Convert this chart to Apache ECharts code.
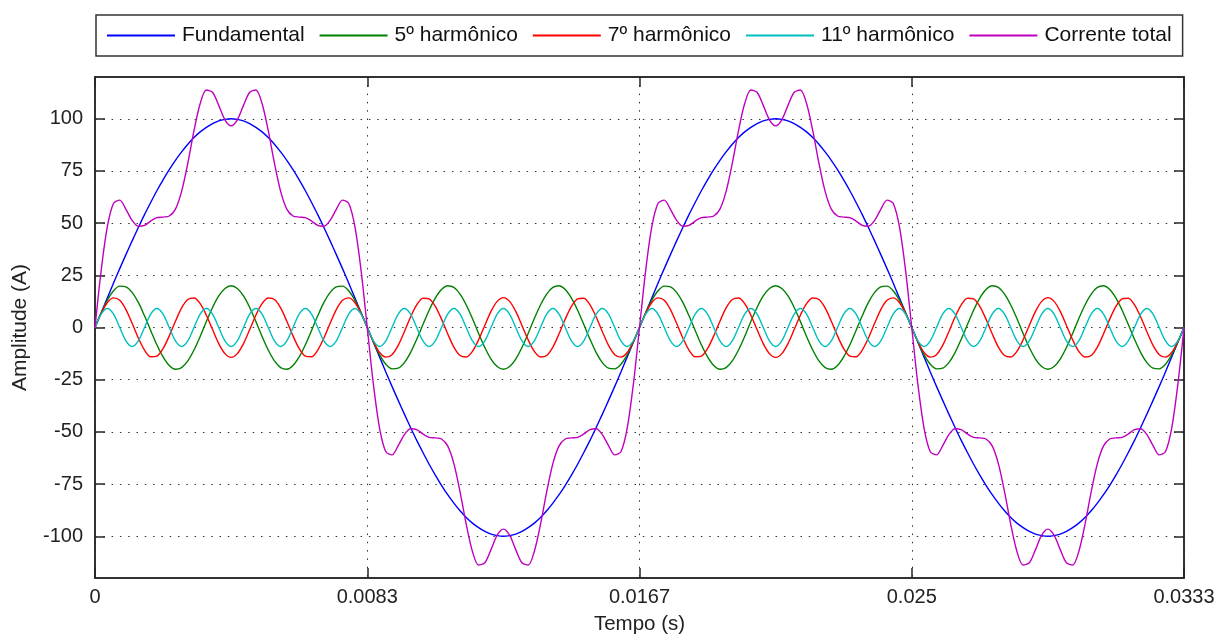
<!DOCTYPE html>
<html lang="pt" style="height: 100%;margin: 0;">
<head>
    <meta charset="UTF-8">
    <title>harmonicos</title>
</head>
<body style="height: 100%;margin: 0;background: #fff;">
<div id="chart" style="width: 1219px;height: 635px;margin: 0;"></div>
<script src="https://cdn.jsdelivr.net/npm/echarts@6/dist/echarts.min.js"></script>
<script>
    // amostras: 88 por ciclo de 60 Hz, dois ciclos (0 a 0.0333 s)
    var rotulosX = ['0', '0.0083', '0.0167', '0.025', '0.0333'];
    var ticksY = [-100, -75, -50, -25, 0, 25, 50, 75, 100];
    var legenda = ['Fundamental', '5º harmônico', '7º harmônico', '11º harmônico', 'Corrente total'];
    var cores = ['#0000ff', '#008000', '#ff0000', '#00bfbf', '#bf00bf'];

    var fundamental = [
        0, 7.1, 14.2, 21.3, 28.2, 34.9, 41.5, 47.9, 54.1, 59.9, 65.5, 70.7, 75.6, 80.1, 84.1, 87.8, 91.0, 93.7, 95.9, 97.7, 99.0, 99.7, 100,
        99.7, 99.0, 97.7, 95.9, 93.7, 91.0, 87.8, 84.1, 80.1, 75.6, 70.7, 65.5, 59.9, 54.1, 47.9, 41.5, 34.9, 28.2, 21.3, 14.2, 7.1, 0,
        -7.1, -14.2, -21.3, -28.2, -34.9, -41.5, -47.9, -54.1, -59.9, -65.5, -70.7, -75.6, -80.1, -84.1, -87.8, -91.0, -93.7, -95.9, -97.7, -99.0, -99.7, -100,
        -99.7, -99.0, -97.7, -95.9, -93.7, -91.0, -87.8, -84.1, -80.1, -75.6, -70.7, -65.5, -59.9, -54.1, -47.9, -41.5, -34.9, -28.2, -21.3, -14.2, -7.1, 0,
        7.1, 14.2, 21.3, 28.2, 34.9, 41.5, 47.9, 54.1, 59.9, 65.5, 70.7, 75.6, 80.1, 84.1, 87.8, 91.0, 93.7, 95.9, 97.7, 99.0, 99.7, 100,
        99.7, 99.0, 97.7, 95.9, 93.7, 91.0, 87.8, 84.1, 80.1, 75.6, 70.7, 65.5, 59.9, 54.1, 47.9, 41.5, 34.9, 28.2, 21.3, 14.2, 7.1, 0,
        -7.1, -14.2, -21.3, -28.2, -34.9, -41.5, -47.9, -54.1, -59.9, -65.5, -70.7, -75.6, -80.1, -84.1, -87.8, -91.0, -93.7, -95.9, -97.7, -99.0, -99.7, -100,
        -99.7, -99.0, -97.7, -95.9, -93.7, -91.0, -87.8, -84.1, -80.1, -75.6, -70.7, -65.5, -59.9, -54.1, -47.9, -41.5, -34.9, -28.2, -21.3, -14.2, -7.1, 0
    ];
    var harm5 = [
        0, 7.0, 13.1, 17.6, 19.8, 19.5, 16.8, 12.0, 5.6, -1.4, -8.3, -14.1, -18.2, -20.0, -19.2, -16.0, -10.8, -4.3, 2.9, 9.6, 15.1, 18.7, 20,
        18.7, 15.1, 9.6, 2.9, -4.3, -10.8, -16.0, -19.2, -20.0, -18.2, -14.1, -8.3, -1.4, 5.6, 12.0, 16.8, 19.5, 19.8, 17.6, 13.1, 7.0, 0,
        -7.0, -13.1, -17.6, -19.8, -19.5, -16.8, -12.0, -5.6, 1.4, 8.3, 14.1, 18.2, 20.0, 19.2, 16.0, 10.8, 4.3, -2.9, -9.6, -15.1, -18.7, -20,
        -18.7, -15.1, -9.6, -2.9, 4.3, 10.8, 16.0, 19.2, 20.0, 18.2, 14.1, 8.3, 1.4, -5.6, -12.0, -16.8, -19.5, -19.8, -17.6, -13.1, -7.0, 0,
        7.0, 13.1, 17.6, 19.8, 19.5, 16.8, 12.0, 5.6, -1.4, -8.3, -14.1, -18.2, -20.0, -19.2, -16.0, -10.8, -4.3, 2.9, 9.6, 15.1, 18.7, 20,
        18.7, 15.1, 9.6, 2.9, -4.3, -10.8, -16.0, -19.2, -20.0, -18.2, -14.1, -8.3, -1.4, 5.6, 12.0, 16.8, 19.5, 19.8, 17.6, 13.1, 7.0, 0,
        -7.0, -13.1, -17.6, -19.8, -19.5, -16.8, -12.0, -5.6, 1.4, 8.3, 14.1, 18.2, 20.0, 19.2, 16.0, 10.8, 4.3, -2.9, -9.6, -15.1, -18.7, -20,
        -18.7, -15.1, -9.6, -2.9, 4.3, 10.8, 16.0, 19.2, 20.0, 18.2, 14.1, 8.3, 1.4, -5.6, -12.0, -16.8, -19.5, -19.8, -17.6, -13.1, -7.0, 0
    ];
    var harm7 = [
        0, 6.8, 12.0, 14.2, 13.0, 8.6, 2.0, -5.0, -10.8, -14.0, -13.7, -10.1, -4.0, 3.0, 9.4, 13.4, 14.1, 11.4, 5.9, -1.0, -7.7, -12.5, -14.3,
        -12.5, -7.7, -1.0, 5.9, 11.4, 14.1, 13.4, 9.4, 3.0, -4.0, -10.1, -13.7, -14.0, -10.8, -5.0, 2.0, 8.6, 13.0, 14.2, 12.0, 6.8, 0,
        -6.8, -12.0, -14.2, -13.0, -8.6, -2.0, 5.0, 10.8, 14.0, 13.7, 10.1, 4.0, -3.0, -9.4, -13.4, -14.1, -11.4, -5.9, 1.0, 7.7, 12.5, 14.3,
        12.5, 7.7, 1.0, -5.9, -11.4, -14.1, -13.4, -9.4, -3.0, 4.0, 10.1, 13.7, 14.0, 10.8, 5.0, -2.0, -8.6, -13.0, -14.2, -12.0, -6.8, 0,
        6.8, 12.0, 14.2, 13.0, 8.6, 2.0, -5.0, -10.8, -14.0, -13.7, -10.1, -4.0, 3.0, 9.4, 13.4, 14.1, 11.4, 5.9, -1.0, -7.7, -12.5, -14.3,
        -12.5, -7.7, -1.0, 5.9, 11.4, 14.1, 13.4, 9.4, 3.0, -4.0, -10.1, -13.7, -14.0, -10.8, -5.0, 2.0, 8.6, 13.0, 14.2, 12.0, 6.8, 0,
        -6.8, -12.0, -14.2, -13.0, -8.6, -2.0, 5.0, 10.8, 14.0, 13.7, 10.1, 4.0, -3.0, -9.4, -13.4, -14.1, -11.4, -5.9, 1.0, 7.7, 12.5, 14.3,
        12.5, 7.7, 1.0, -5.9, -11.4, -14.1, -13.4, -9.4, -3.0, 4.0, 10.1, 13.7, 14.0, 10.8, 5.0, -2.0, -8.6, -13.0, -14.2, -12.0, -6.8, 0
    ];
    var harm11 = [
        0, 6.4, 9.1, 6.4, 0, -6.4, -9.1, -6.4, 0, 6.4, 9.1, 6.4, 0, -6.4, -9.1, -6.4, 0, 6.4, 9.1, 6.4, 0, -6.4, -9.1,
        -6.4, 0, 6.4, 9.1, 6.4, 0, -6.4, -9.1, -6.4, 0, 6.4, 9.1, 6.4, 0, -6.4, -9.1, -6.4, 0, 6.4, 9.1, 6.4, 0,
        -6.4, -9.1, -6.4, 0, 6.4, 9.1, 6.4, 0, -6.4, -9.1, -6.4, 0, 6.4, 9.1, 6.4, 0, -6.4, -9.1, -6.4, 0, 6.4, 9.1,
        6.4, 0, -6.4, -9.1, -6.4, 0, 6.4, 9.1, 6.4, 0, -6.4, -9.1, -6.4, 0, 6.4, 9.1, 6.4, 0, -6.4, -9.1, -6.4, 0,
        6.4, 9.1, 6.4, 0, -6.4, -9.1, -6.4, 0, 6.4, 9.1, 6.4, 0, -6.4, -9.1, -6.4, 0, 6.4, 9.1, 6.4, 0, -6.4, -9.1,
        -6.4, 0, 6.4, 9.1, 6.4, 0, -6.4, -9.1, -6.4, 0, 6.4, 9.1, 6.4, 0, -6.4, -9.1, -6.4, 0, 6.4, 9.1, 6.4, 0,
        -6.4, -9.1, -6.4, 0, 6.4, 9.1, 6.4, 0, -6.4, -9.1, -6.4, 0, 6.4, 9.1, 6.4, 0, -6.4, -9.1, -6.4, 0, 6.4, 9.1,
        6.4, 0, -6.4, -9.1, -6.4, 0, 6.4, 9.1, 6.4, 0, -6.4, -9.1, -6.4, 0, 6.4, 9.1, 6.4, 0, -6.4, -9.1, -6.4, 0
    ];
    var total = [
        0, 27.4, 48.4, 59.5, 61.0, 56.6, 51.3, 48.5, 48.9, 51.0, 52.6, 52.9, 53.4, 56.7, 65.2, 78.7, 94.3, 107.3, 113.8, 112.7, 106.4, 99.5, 96.6,
        99.5, 106.4, 112.7, 113.8, 107.3, 94.3, 78.7, 65.2, 56.7, 53.4, 52.9, 52.6, 51.0, 48.9, 48.5, 51.3, 56.6, 61.0, 59.5, 48.4, 27.4, 0,
        -27.4, -48.4, -59.5, -61.0, -56.6, -51.3, -48.5, -48.9, -51.0, -52.6, -52.9, -53.4, -56.7, -65.2, -78.7, -94.3, -107.3, -113.8, -112.7, -106.4, -99.5, -96.6,
        -99.5, -106.4, -112.7, -113.8, -107.3, -94.3, -78.7, -65.2, -56.7, -53.4, -52.9, -52.6, -51.0, -48.9, -48.5, -51.3, -56.6, -61.0, -59.5, -48.4, -27.4, 0,
        27.4, 48.4, 59.5, 61.0, 56.6, 51.3, 48.5, 48.9, 51.0, 52.6, 52.9, 53.4, 56.7, 65.2, 78.7, 94.3, 107.3, 113.8, 112.7, 106.4, 99.5, 96.6,
        99.5, 106.4, 112.7, 113.8, 107.3, 94.3, 78.7, 65.2, 56.7, 53.4, 52.9, 52.6, 51.0, 48.9, 48.5, 51.3, 56.6, 61.0, 59.5, 48.4, 27.4, 0,
        -27.4, -48.4, -59.5, -61.0, -56.6, -51.3, -48.5, -48.9, -51.0, -52.6, -52.9, -53.4, -56.7, -65.2, -78.7, -94.3, -107.3, -113.8, -112.7, -106.4, -99.5, -96.6,
        -99.5, -106.4, -112.7, -113.8, -107.3, -94.3, -78.7, -65.2, -56.7, -53.4, -52.9, -52.6, -51.0, -48.9, -48.5, -51.3, -56.6, -61.0, -59.5, -48.4, -27.4, 0
    ];

    var fonte = "'Liberation Sans', Arial, sans-serif";
    var myChart = echarts.init(document.getElementById('chart'), null, {renderer: 'canvas'});

    function pares(valores) {
        return valores.map(function (v, i) {
            return [i, v];
        });
    }

    var pontilhado = {show: true, lineStyle: {color: '#333', width: 1, type: [1.5, 6.8]}};
    var eixoLinha = {show: true, onZero: false, lineStyle: {color: '#262626', width: 1.5}};
    var marcas = {show: true, inside: true, length: 10, lineStyle: {color: '#262626', width: 1.5}};

    var listas = [fundamental, harm5, harm7, harm11, total];
    var series = [];
    for (var index = 0; index < listas.length; index++) {
        series.push({
            name: legenda[index],
            type: 'line',
            data: pares(listas[index]),
            symbol: 'none',
            smooth: 0.3,
            color: cores[index],
            lineStyle: {width: 1.4, color: cores[index]},
            xAxisIndex: 0,
            yAxisIndex: 0
        });
    }

    var option = {
        animation: false,
        backgroundColor: '#fff',
        textStyle: {fontFamily: fonte},
        legend: {
            data: legenda,
            left: 96,
            top: 15,
            padding: [10, 11, 10, 11],
            itemGap: 15,
            itemWidth: 68,
            itemHeight: 2,
            icon: 'rect',
            borderColor: '#333',
            borderWidth: 1.5,
            backgroundColor: '#fff',
            textStyle: {fontFamily: fonte, fontSize: 21, color: '#111', padding: [0, 0, 0, 2]}
        },
        grid: {
            left: 95, right: 35, top: 77, bottom: 57,
            show: true, borderColor: '#262626', borderWidth: 1.5,
            outerBoundsMode: 'none',
            containLabel: false
        },
        xAxis: [{
            type: 'value',
            min: 0, max: 176, interval: 44,
            axisLine: eixoLinha,
            axisTick: marcas,
            axisLabel: {
                margin: 9, fontSize: 20, color: '#222', fontFamily: fonte,
                formatter: function (v) {
                    return rotulosX[Math.round(v / 44)];
                }
            },
            splitLine: pontilhado,
            name: 'Tempo (s)',
            nameLocation: 'middle',
            nameGap: 36,
            nameTextStyle: {fontSize: 20.5, color: '#222', fontFamily: fonte}
        }, {
            type: 'value',
            position: 'top',
            min: 0, max: 176, interval: 44,
            axisLine: eixoLinha,
            axisTick: marcas,
            axisLabel: {show: false},
            splitLine: {show: false}
        }],
        yAxis: [{
            type: 'value',
            min: -120, max: 120,
            axisLine: eixoLinha,
            axisTick: {show: true, inside: true, length: 10, customValues: ticksY, lineStyle: {color: '#262626', width: 1.5}},
            axisLabel: {margin: 12, fontSize: 20, color: '#222', fontFamily: fonte, customValues: ticksY},
            splitLine: pontilhado,
            name: 'Amplitude (A)',
            nameLocation: 'middle',
            nameGap: 64,
            nameTextStyle: {fontSize: 21, color: '#222', fontFamily: fonte}
        }, {
            type: 'value',
            position: 'right',
            min: -120, max: 120,
            axisLine: eixoLinha,
            axisTick: {show: true, inside: true, length: 10, customValues: ticksY, lineStyle: {color: '#262626', width: 1.5}},
            axisLabel: {show: false},
            splitLine: {show: false}
        }],
        series: series
    };

    myChart.setOption(option, true);
</script>
</body>
</html>
